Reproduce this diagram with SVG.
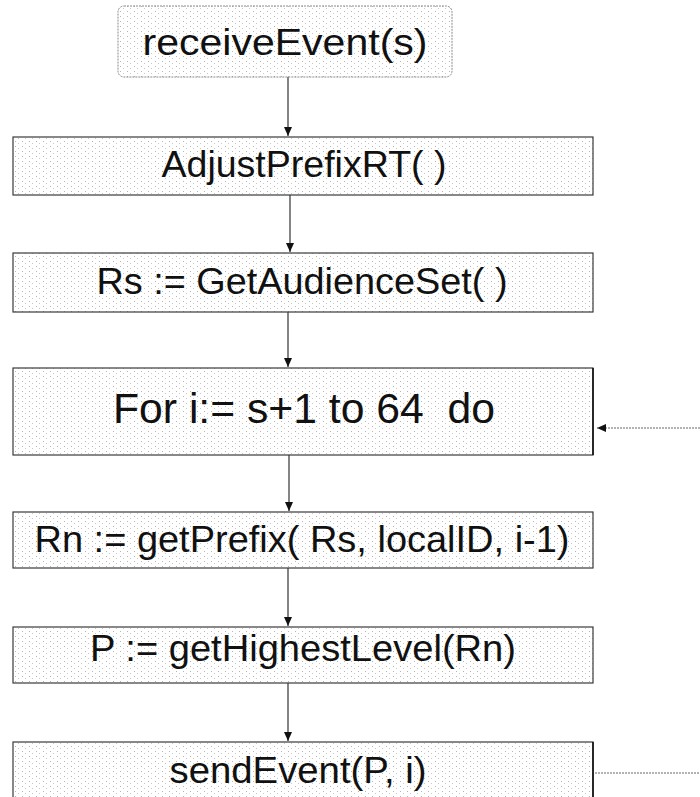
<svg xmlns="http://www.w3.org/2000/svg" width="700" height="797" viewBox="0 0 700 797">
  <style>
    .box { fill: url(#halftone); stroke: #3a3a3a; stroke-width: 1.2; }
    .start { fill: url(#halftone); stroke: #8a8a8a; stroke-width: 1; stroke-dasharray: 2 1; }
    .edge { stroke: #111; stroke-width: 1.6; fill: none; }
    .label { font-family: "Liberation Sans", Arial, sans-serif; fill: #111; text-anchor: middle; }
    .flow { stroke: #333; stroke-width: 1.2; fill: none; }
    .loop { stroke: #666; stroke-width: 1; stroke-dasharray: 2 1; fill: none; }
  </style>
  <defs>
    <!-- sparse grey dots standing in for the printed halftone fill -->
    <pattern id="halftone" width="7" height="5" patternUnits="userSpaceOnUse">
      <rect width="7" height="5" fill="#ffffff"/>
      <rect x="1" y="1" width="1" height="1" fill="#b5b5b5"/>
      <rect x="4" y="3" width="1" height="1" fill="#c8c8c8"/>
    </pattern>
    <marker id="arrow" markerWidth="10" markerHeight="10" refX="9" refY="5" orient="auto" markerUnits="userSpaceOnUse">
      <path d="M0,1 L9,5 L0,9 Z" fill="#111"/>
    </marker>
  </defs>

  <rect width="700" height="797" fill="#ffffff"/>

  <g id="connectors">
    <path class="flow" d="M288,77 V136" marker-end="url(#arrow)"/>
    <path class="flow" d="M290,195 V252" marker-end="url(#arrow)"/>
    <path class="flow" d="M288,312 V367" marker-end="url(#arrow)"/>
    <path class="flow" d="M289,455 V511" marker-end="url(#arrow)"/>
    <path class="flow" d="M288,568 V626" marker-end="url(#arrow)"/>
    <path class="flow" d="M288,683 V741" marker-end="url(#arrow)"/>
    <!-- loop back from sendEvent to the for-loop head -->
    <path class="loop" d="M595,773 H700"/>
    <path class="loop" d="M700,428 H597" marker-end="url(#arrow)"/>
  </g>

  <g id="receiveEvent">
    <rect class="start" x="118" y="6" width="334" height="71" rx="6"/>
    <text class="label" x="285" y="55" font-size="36" textLength="285" lengthAdjust="spacingAndGlyphs">receiveEvent(s)</text>
  </g>

  <g id="adjustPrefixRT">
    <rect class="box" x="13" y="137" width="580" height="58"/>
    <text class="label" x="304" y="177" font-size="36" textLength="285" lengthAdjust="spacingAndGlyphs">AdjustPrefixRT( )</text>
  </g>

  <g id="getAudienceSet">
    <rect class="box" x="13" y="253" width="580" height="59"/>
    <text class="label" x="302" y="294" font-size="36" textLength="411" lengthAdjust="spacingAndGlyphs">Rs := GetAudienceSet( )</text>
  </g>

  <g id="forLoop">
    <rect class="box" x="13" y="368" width="580" height="87"/>
    <line class="edge" x1="593" y1="368" x2="593" y2="455"/>
    <text class="label" x="304" y="423" font-size="42" textLength="382" lengthAdjust="spacingAndGlyphs" xml:space="preserve">For i:= s+1 to 64  do</text>
  </g>

  <g id="getPrefix">
    <rect class="box" x="13" y="512" width="580" height="56"/>
    <text class="label" x="302" y="552" font-size="36" textLength="535" lengthAdjust="spacingAndGlyphs">Rn := getPrefix( Rs, localID, i-1)</text>
  </g>

  <g id="getHighestLevel">
    <rect class="box" x="13" y="627" width="580" height="56"/>
    <text class="label" x="303" y="661" font-size="36" textLength="426" lengthAdjust="spacingAndGlyphs">P := getHighestLevel(Rn)</text>
  </g>

  <g id="sendEvent">
    <rect class="box" x="13" y="742" width="580" height="70"/>
    <line class="edge" x1="593" y1="742" x2="593" y2="797"/>
    <text class="label" x="298" y="783" font-size="36" textLength="257" lengthAdjust="spacingAndGlyphs">sendEvent(P, i)</text>
  </g>
</svg>
